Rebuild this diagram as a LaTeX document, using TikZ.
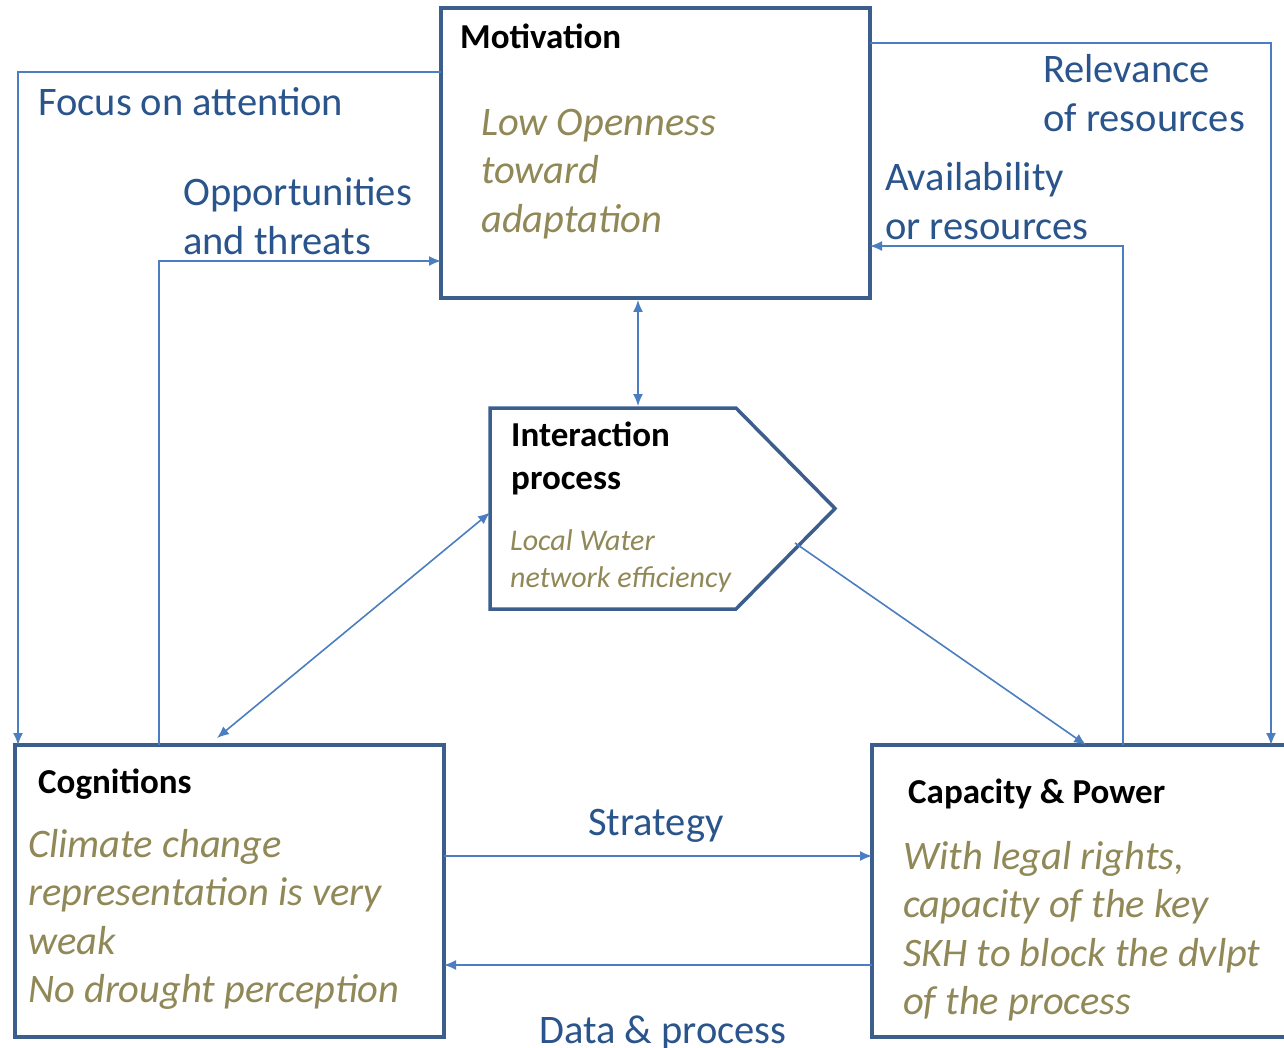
\documentclass[tikz,border=0pt]{standalone}
\usepackage{fontspec}
\setmainfont{Carlito}
\usetikzlibrary{arrows.meta,calc}
\definecolor{boxblue}{RGB}{59,94,140}
\definecolor{connblue}{RGB}{74,126,192}
\definecolor{lblblue}{RGB}{42,84,140}
\definecolor{olive}{RGB}{144,136,86}
\begin{document}
\begin{tikzpicture}[x=1pt,y=-1pt,
  boxnode/.style={draw=boxblue,line width=3.5pt,outer sep=0pt,inner sep=0pt,fill=white},
  conn/.style={draw=connblue,line width=1.6pt},
  tip/.style={-{Latex[length=12pt,width=10pt]}},
  dtip/.style={{Latex[length=12pt,width=10pt]}-{Latex[length=12pt,width=10pt]}},
  lbl/.style={font=\fontsize{40.5}{49}\selectfont,text=lblblue,inner sep=0pt,anchor=north west,align=left},
  ttl/.style={font=\fontsize{35}{43}\selectfont\bfseries,text=black,inner sep=0pt,anchor=north west,align=left},
  itx/.style={font=\fontsize{40.5}{48.5}\selectfont\itshape,text=olive,inner sep=0pt,anchor=north west,align=left},
  itsm/.style={font=\fontsize{30}{37}\selectfont\itshape,text=olive,inner sep=0pt,anchor=north west,align=left}]
\useasboundingbox (0,0) rectangle (1284,1048);
\fill[white] (0,0) rectangle (1284,1048);
\clip (0,0) rectangle (1284,1048);

% boxes
\node[boxnode,minimum width=429pt,minimum height=290pt] (mot) at (655.5,153) {};
\node[boxnode,minimum width=429pt,minimum height=292pt] (cog) at (229.5,891) {};
\node[boxnode,minimum width=418pt,minimum height=292pt] (cap) at (1081,891) {};
\node[inner sep=0pt,outer sep=0pt,minimum width=345pt,minimum height=201pt] (int) at (662.5,508.5) {};
\draw[draw=boxblue,line width=3.5pt,line join=miter,fill=white]
  (int.north west) -- ([xshift=-99pt]int.north east) -- (int.east)
  -- ([xshift=-99pt]int.south east) -- (int.south west) -- cycle;

% box texts
\node[ttl] (motT) at (460,48-30.1) {\strut Motivation};
\node[itx] (motI) at (481,135-34) {\strut Low Openness\\toward\\adaptation};
\node[ttl] (intT) at (511,446-30.1) {\strut Interaction\\process};
\node[itsm] (intI) at (510,550-25.9) {\strut Local Water\\network efficiency};
\node[ttl] (cogT) at (38,793-30.1) {\strut Cognitions};
\node[itx] (cogI) at (28,857-34) {\strut Climate change\\representation is very\\weak\\No drought perception};
\node[ttl] (capT) at (908,803-30.1) {\strut Capacity \& Power};
\node[itx] (capI) at (903,869-34) {\strut With legal rights,\\capacity of the key\\SKH to block the dvlpt\\of the process};

% connector coordinates
\coordinate (fa) at (18,72);
\coordinate (op) at (159,261);
\coordinate (rl) at (1271,43);
\coordinate (av) at (1123,246);
\coordinate (mx) at (638,0);
\coordinate (cx) at (217,738);
\coordinate (is) at (795,543);
\coordinate (ix) at (1086,0);
\coordinate (st) at (0,856);
\coordinate (dp) at (0,965);

% connectors
\draw[conn,tip] (mot.west |- fa) -- (fa) -- (fa |- cog.north);
\draw[conn,tip] (op |- cog.north) -- (op) -- (op -| mot.west);
\draw[conn,tip] (mot.east |- rl) -- (rl) -- (rl |- cap.north);
\draw[conn,tip] (av |- cap.north) -- (av) -- (av -| mot.east);
\draw[conn,dtip] ([yshift=-2pt]mot.south -| mx) -- ([yshift=2pt]int.north -| mx);
\draw[conn,dtip] (cx) -- ([yshift=-4pt]int.west);
\draw[conn,tip] (is) -- (cap.north -| ix);
\draw[conn,tip] (cog.east |- st) -- (cap.west |- st);
\draw[conn,tip] (cap.west |- dp) -- (cog.east |- dp);

% connector labels
\node[lbl] (lfa) at (38,115-34.3) {\strut Focus on attention};
\node[lbl] (lop) at (183,205-34.3) {\strut Opportunities\\and threats};
\node[lbl] (lrl) at (1043,82-34.3) {\strut Relevance\\of resources};
\node[lbl] (lav) at (885,190-34.3) {\strut Availability\\or resources};
\node[lbl] (lst) at (588,835-34.3) {\strut Strategy};
\node[lbl] (ldp) at (539,1043-34.3) {\strut Data \& process};
\end{tikzpicture}
\end{document}
